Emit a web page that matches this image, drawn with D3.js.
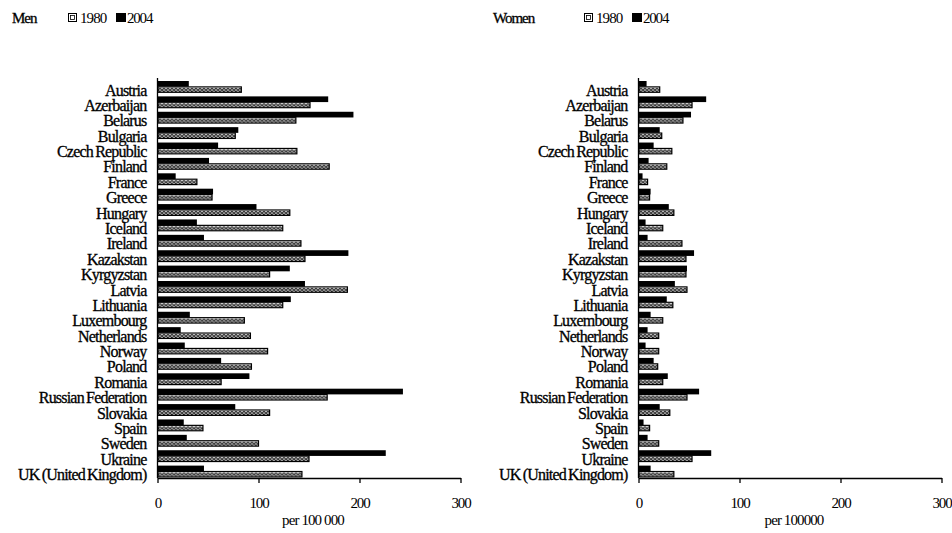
<!DOCTYPE html>
<html>
<head>
<meta charset="utf-8">
<script src="https://cdn.jsdelivr.net/npm/d3@7"></script>
<style>
  body { margin: 0; background: #fff; }
  svg text { font-family: "Liberation Serif", "DejaVu Serif", serif; fill: #000; }
</style>
</head>
<body>
<svg id="chart" width="952" height="533"></svg>
<script>
// Mortality rates per 100 000, 1980 vs 2004
const countries = ["Austria", "Azerbaijan", "Belarus", "Bulgaria", "Czech Republic", "Finland", "France",
  "Greece", "Hungary", "Iceland", "Ireland", "Kazakstan", "Kyrgyzstan", "Latvia", "Lithuania",
  "Luxembourg", "Netherlands", "Norway", "Poland", "Romania", "Russian Federation", "Slovakia",
  "Spain", "Sweden", "Ukraine", "UK (United Kingdom)"];

const men1980 = [83, 151, 137, 77, 138, 170, 39, 54, 131, 124, 142, 146, 111, 188, 124, 86, 92, 109, 93, 63, 168, 111, 45, 100, 150, 143];
const men2004 = [31, 169, 194, 80, 60, 51, 18, 55, 98, 39, 46, 189, 131, 146, 132, 32, 23, 27, 63, 91, 243, 77, 26, 29, 226, 46];
const women1980 = [21, 53, 44, 23, 33, 28, 9, 11, 35, 24, 43, 47, 47, 48, 34, 24, 20, 20, 19, 24, 48, 31, 11, 20, 53, 35];
const women2004 = [8, 67, 52, 21, 15, 10, 4, 12, 30, 7, 9, 55, 48, 36, 28, 12, 9, 7, 15, 29, 60, 21, 5, 9, 72, 12];
const tickValues = [0, 100, 200, 300];
const legendLabels = ["1980", "2004"];

const svg = d3.select("#chart");

// Ring pattern for the 1980 bars (each bar sits in its own translated group,
// so the tile lines up with the bar's top edge)
const defs = svg.append("defs");
const pat = defs.append("pattern")
  .attr("id", "rings")
  .attr("patternUnits", "userSpaceOnUse")
  .attr("width", 4).attr("height", 6);
pat.append("rect").attr("width", 4).attr("height", 6).attr("fill", "#fff");
pat.append("circle").attr("cx", 2).attr("cy", 3).attr("r", 1.4)
  .attr("fill", "none").attr("stroke", "#111").attr("stroke-width", 1.1);

function panel(cfg) {
  const top = 78, height = 400, width = 303;
  const g = svg.append("g").attr("transform", `translate(${cfg.x0},${top})`);

  const x = d3.scaleLinear().domain([0, 300]).range([0, width]);
  const y = d3.scaleBand().domain(countries).range([0, height]).padding(0);

  // 2004 bars (solid)
  g.selectAll(".b2004").data(countries).join("rect")
    .attr("x", 0)
    .attr("y", d => y(d) + 3)
    .attr("width", (d, i) => x(cfg.v2004[i]))
    .attr("height", 5.7)
    .attr("fill", "#000");

  // 1980 bars (ring pattern)
  const b80 = g.selectAll(".b1980").data(countries).join("g")
    .attr("transform", d => `translate(0.5,${y(d) + 8.9})`);
  b80.append("rect")
    .attr("x", 0).attr("y", 0)
    .attr("width", (d, i) => Math.max(0, x(cfg.v1980[i]) - 0.5))
    .attr("height", 5.4)
    .attr("fill", "url(#rings)")
    .attr("stroke", "#000")
    .attr("stroke-width", 1.2);

  // Category labels
  g.selectAll(".lab").data(countries).join("text")
    .attr("x", -11)
    .attr("y", d => y(d) + 12)
    .attr("text-anchor", "end")
    .attr("dominant-baseline", "central")
    .attr("font-size", 16)
    .attr("letter-spacing", -0.8)
    .attr("word-spacing", -1)
    .attr("stroke", "#000").attr("stroke-width", 0.3)
    .text(d => d);

  // Vertical axis line
  g.append("line").attr("x1", 0).attr("x2", 0).attr("y1", 0).attr("y2", height)
    .attr("stroke", "#000").attr("stroke-width", 1.3);

  // Value axis
  const ax = g.append("g").attr("transform", `translate(0,${height})`)
    .call(d3.axisBottom(x).tickValues(tickValues).tickSize(5).tickSizeOuter(0).tickPadding(14).tickFormat(d3.format("d")));
  ax.select(".domain").attr("stroke", "#000").attr("stroke-width", 1.3);
  ax.selectAll(".tick line").attr("stroke", "#000").attr("stroke-width", 1.3);
  ax.selectAll(".tick text")
    .attr("font-family", "Liberation Serif")
    .attr("font-size", 15).attr("letter-spacing", -1.2);

  g.append("text")
    .attr("x", width / 2 + 4).attr("y", height + 47)
    .attr("text-anchor", "middle")
    .attr("font-size", 15).attr("letter-spacing", -0.9)
    .text(cfg.axisTitle);

  // Title and legend
  const lg = svg.append("g").attr("transform", `translate(0,18)`);
  lg.append("text").attr("x", cfg.titleX).attr("y", 0)
    .attr("dominant-baseline", "central")
    .attr("font-size", 15).attr("letter-spacing", -1)
    .attr("stroke", "#000").attr("stroke-width", 0.3)
    .text(cfg.title);
  lg.append("rect").attr("x", cfg.legendX + 0.5).attr("y", -4.5).attr("width", 8).attr("height", 8)
    .attr("fill", "#fff").attr("stroke", "#000").attr("stroke-width", 1);
  lg.append("rect").attr("x", cfg.legendX + 2.5).attr("y", -2.5).attr("width", 4).attr("height", 4)
    .attr("fill", "none").attr("stroke", "#000").attr("stroke-width", 0.8);
  lg.append("text").attr("x", cfg.legendX + 12).attr("y", 0)
    .attr("dominant-baseline", "central")
    .attr("font-size", 15).attr("letter-spacing", -0.9)
    .text(legendLabels[0]);
  lg.append("rect").attr("x", cfg.legendX + 48).attr("y", -5).attr("width", 10).attr("height", 9)
    .attr("fill", "#000");
  lg.append("text").attr("x", cfg.legendX + 59).attr("y", 0)
    .attr("dominant-baseline", "central")
    .attr("font-size", 15).attr("letter-spacing", -1.2)
    .text(legendLabels[1]);
}

panel({ x0: 157.5, v1980: men1980, v2004: men2004, title: "Men", titleX: 12, legendX: 68, axisTitle: "per 100 000" });
panel({ x0: 638.5, v1980: women1980, v2004: women2004, title: "Women", titleX: 493, legendX: 584, axisTitle: "per 100000" });
</script>
</body>
</html>
